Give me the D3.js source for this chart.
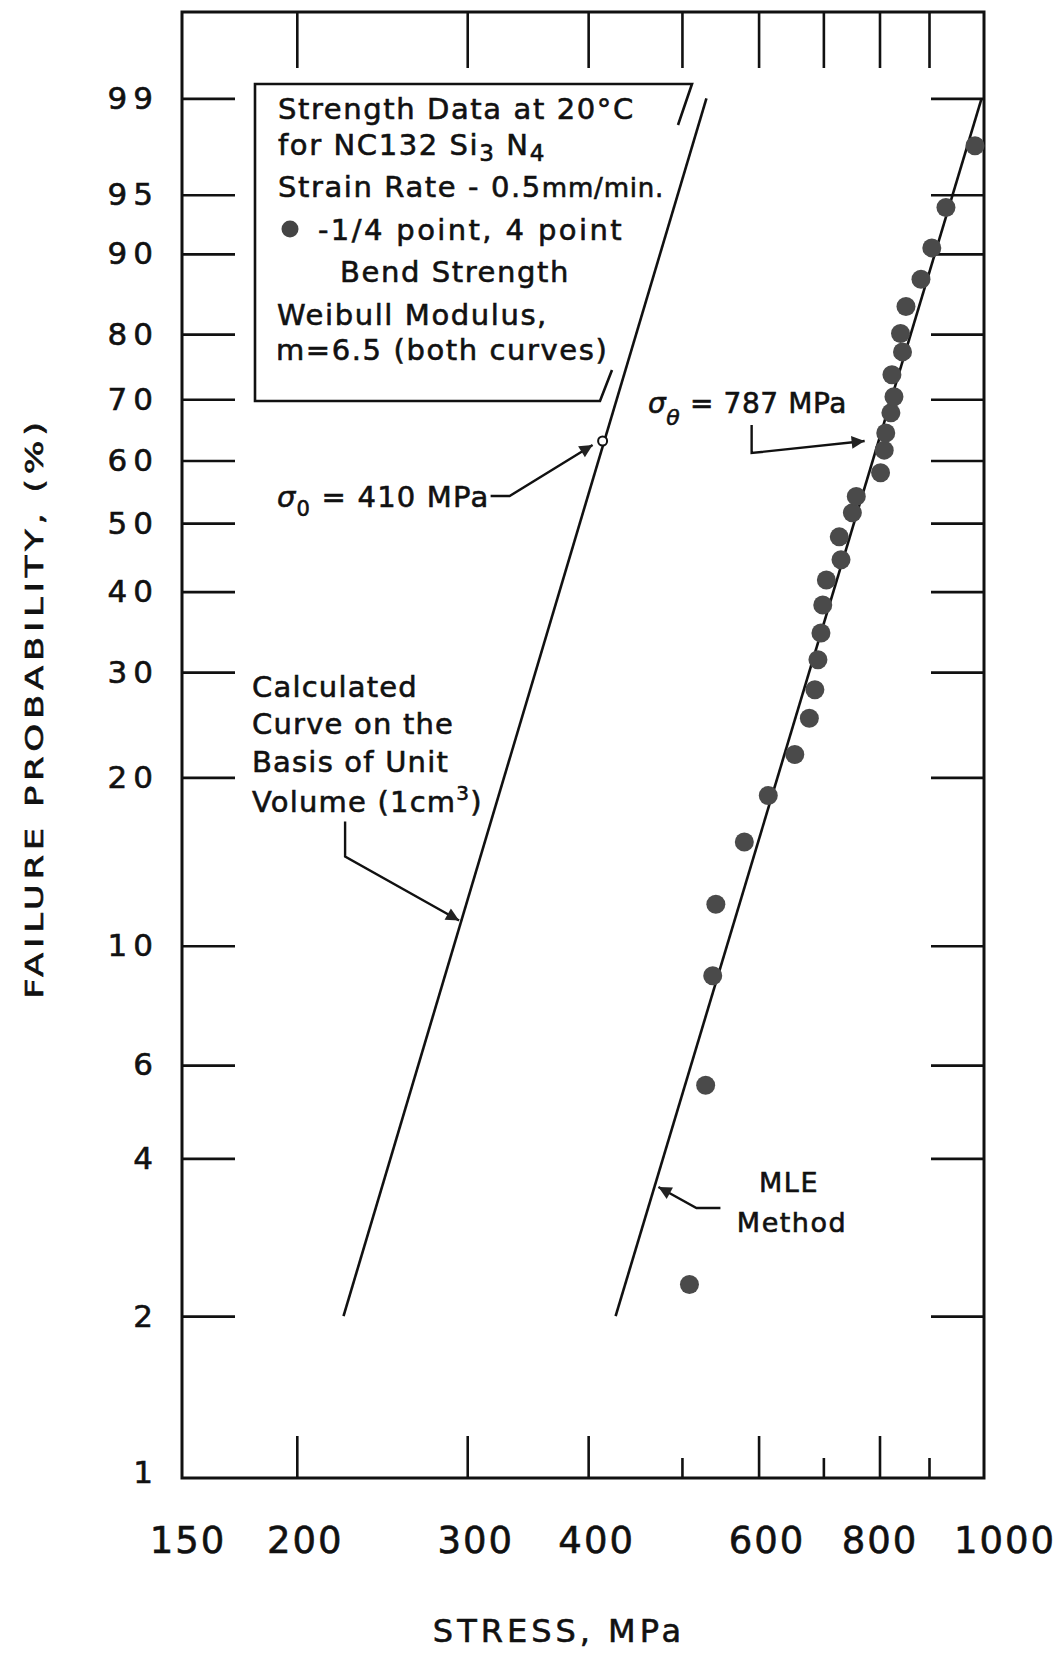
<!DOCTYPE html>
<html>
<head>
<meta charset="utf-8">
<script src="https://cdn.jsdelivr.net/npm/d3@7"></script>
<style>
  body { margin: 0; background: #fff; }
  text { font-family: 'DejaVu Sans', sans-serif; fill: #111; stroke: #111; stroke-width: 0.6px; }
</style>
</head>
<body>
<div id="chart"></div>
<script>
// Weibull probability plot: failure probability vs stress (log)

const stressDomain = [152.2, 1025.8];
const probDomain = [0.977, 99.885];

const stressLongTicks = [200, 300, 400, 600, 800];
const stressShortTicks = [500, 700, 900];
const stressTopTicks = [200, 300, 400, 500, 600, 700, 800, 900];
const stressLabels = [200, 300, 400, 600, 800];
const stressEdgeLabels = ['150', '1000'];

const probTicks = [2, 4, 6, 10, 20, 30, 40, 50, 60, 70, 80, 90, 95, 99];
const probLabels = [1, 2, 4, 6, 10, 20, 30, 40, 50, 60, 70, 80, 90, 95, 99];

// 1/4 point, 4 point bend strength data
const bendStress = [509, 529, 538, 542, 580, 614, 654, 677, 686, 691, 696, 699, 705, 730, 727,
  750, 757, 802, 809, 812, 822, 828, 824, 845, 841, 852, 883, 906, 937, 1004];
const bendProb = [2.3, 5.5, 8.8, 11.9, 15.4, 18.6, 21.9, 25.2, 28.1, 31.4, 34.6, 38.2, 41.6, 44.5, 47.9,
  51.6, 54.2, 58.0, 61.7, 64.5, 67.8, 70.4, 73.9, 77.4, 80.1, 83.8, 87.2, 90.6, 94.1, 97.6];

// fitted lines (stress, probability %)
const unitVolumeStress = [223.5, 530];
const unitVolumeProb = [2, 99];
const mleStress = [427, 1020];
const mleProb = [2, 99];

const sigma0Point = [414, 63.2];

const width = 1057;
const height = 1653;
const frame = { left: 182, right: 984, top: 12, bottom: 1478 };

const weib = (p) => Math.log(-Math.log(1 - p / 100));

const svg = d3.select('#chart').append('svg').attr('width', width).attr('height', height);

const x = d3.scaleLog().domain(stressDomain).range([frame.left, frame.right]);
const y = d3.scaleLinear().domain(probDomain.map(weib)).range([frame.bottom, frame.top]);
const px = (d) => x(d[0]);
const py = (d) => y(weib(d[1]));

// arrow head
svg
  .append('defs')
  .append('marker')
  .attr('id', 'head')
  .attr('markerUnits', 'userSpaceOnUse')
  .attr('viewBox', '0 0 10 10')
  .attr('refX', 10)
  .attr('refY', 5)
  .attr('markerWidth', 27)
  .attr('markerHeight', 13)
  .attr('orient', 'auto')
  .append('path')
  .attr('d', 'M0,0 L10,5 L0,10 Z')
  .attr('fill', '#222');

const styleTicks = (g, w) => {
  g.select('.domain').remove();
  g.selectAll('.tick line').attr('stroke', '#111').attr('stroke-width', w);
};

// tick marks
svg
  .append('g')
  .attr('transform', `translate(${frame.left},0)`)
  .call(d3.axisLeft(y).tickValues(probTicks.map(weib)).tickSize(-53).tickFormat(''))
  .call((g) => styleTicks(g, 2.6));

svg
  .append('g')
  .attr('transform', `translate(${frame.right},0)`)
  .call(d3.axisRight(y).tickValues(probTicks.map(weib)).tickSize(-53).tickFormat(''))
  .call((g) => styleTicks(g, 2.6));

svg
  .append('g')
  .attr('transform', `translate(0,${frame.top})`)
  .call(d3.axisTop(x).tickValues(stressTopTicks).tickSize(-56).tickFormat(''))
  .call((g) => styleTicks(g, 2.6));

svg
  .append('g')
  .attr('transform', `translate(0,${frame.bottom})`)
  .call(d3.axisBottom(x).tickValues(stressLongTicks).tickSize(-42).tickFormat(''))
  .call((g) => styleTicks(g, 2.6));

svg
  .append('g')
  .attr('transform', `translate(0,${frame.bottom})`)
  .call(d3.axisBottom(x).tickValues(stressShortTicks).tickSize(-20).tickFormat(''))
  .call((g) => styleTicks(g, 2.6));

// tick labels
const bottomLabels = svg
  .append('g')
  .attr('transform', `translate(0,${frame.bottom})`)
  .call(d3.axisBottom(x).tickValues(stressLabels).tickSize(0).tickPadding(49).tickFormat(d3.format('d')));
bottomLabels.select('.domain').remove();
bottomLabels.attr('font-size', null).attr('font-family', null);
bottomLabels
  .selectAll('text')
  .attr('dx', (d) => (d === 800 ? 0 : 8))
  .style('font-size', '37px')
  .style('letter-spacing', '2px');

// 150 and 1000 sit at the frame corners
bottomLabels
  .selectAll('.edge')
  .data(stressEdgeLabels)
  .join('text')
  .attr('class', 'edge')
  .attr('x', (d, i) => x.range()[i] + (i ? 21 : 6))
  .attr('y', 49)
  .attr('dy', '0.71em')
  .attr('text-anchor', 'middle')
  .style('font-size', '37px')
  .style('letter-spacing', '2px')
  .text((d) => d);

const leftLabels = svg
  .append('g')
  .attr('transform', `translate(${frame.left},0)`)
  .call(
    d3
      .axisLeft(y)
      .tickValues(probLabels.map(weib))
      .tickSize(0)
      .tickPadding(23)
      .tickFormat((d, i) => probLabels[i]),
  );
leftLabels.select('.domain').remove();
leftLabels.attr('font-size', null).attr('font-family', null);
leftLabels.selectAll('text').style('font-size', '31px').style('letter-spacing', '6px');

// frame
svg
  .append('rect')
  .attr('x', frame.left)
  .attr('y', frame.top)
  .attr('width', frame.right - frame.left)
  .attr('height', frame.bottom - frame.top)
  .attr('fill', 'none')
  .attr('stroke', '#111')
  .attr('stroke-width', 3);

// axis titles
svg
  .append('text')
  .attr('x', 559)
  .attr('y', 1642)
  .attr('text-anchor', 'middle')
  .style('font-size', '32px')
  .style('letter-spacing', '4px')
  .text('STRESS, MPa');

svg
  .append('text')
  .attr('transform', 'translate(43,708) rotate(-90) scale(1.42,1)')
  .attr('text-anchor', 'middle')
  .style('font-size', '25px')
  .style('letter-spacing', '3.3px')
  .text('FAILURE PROBABILITY, (%)');

// lines
const line = d3.line().x(px).y(py);

const unitVolumeData = d3.zip(unitVolumeStress, unitVolumeProb);
const mleData = d3.zip(mleStress, mleProb);

svg
  .append('path')
  .datum(unitVolumeData)
  .attr('d', line)
  .attr('fill', 'none')
  .attr('stroke', '#111')
  .attr('stroke-width', 2.6);

svg
  .append('path')
  .datum(mleData)
  .attr('d', line)
  .attr('fill', 'none')
  .attr('stroke', '#111')
  .attr('stroke-width', 2.6);

// data points
svg
  .append('g')
  .selectAll('circle')
  .data(d3.zip(bendStress, bendProb))
  .join('circle')
  .attr('cx', px)
  .attr('cy', py)
  .attr('r', 9.5)
  .attr('fill', '#4a4a4a');

// point on a fitted line at a given probability (log stress vs weibull)
const onLine = (data, p) => {
  const t = (weib(p) - weib(data[0][1])) / (weib(data[1][1]) - weib(data[0][1]));
  const s = Math.exp(Math.log(data[0][0]) + t * (Math.log(data[1][0]) - Math.log(data[0][0])));
  return [x(s), y(weib(p))];
};

const arrow = (pts) => {
  svg
    .append('path')
    .attr('d', d3.line()(pts))
    .attr('fill', 'none')
    .attr('stroke', '#111')
    .attr('stroke-width', 2.4)
    .attr('marker-end', 'url(#head)');
};

// legend box
svg
  .append('path')
  .attr('d', 'M678,125 L692,84 L255,84 L255,401 L600,401 L612,370')
  .attr('fill', 'none')
  .attr('stroke', '#111')
  .attr('stroke-width', 2.6);

const legend = svg.append('g').style('font-size', '29px').style('letter-spacing', '1.6px');

legend.append('text').attr('x', 278).attr('y', 119).text('Strength Data at 20°C');

const l2 = legend.append('text').attr('x', 278).attr('y', 155);
l2.append('tspan').text('for NC132  Si');
l2.append('tspan').attr('dy', 6).style('font-size', '23px').text('3');
l2.append('tspan').attr('dy', -6).text('  N');
l2.append('tspan').attr('dy', 6).style('font-size', '23px').text('4');

const l3 = legend.append('text').attr('x', 278).attr('y', 197);
l3.append('tspan').text('Strain Rate - 0.5');
l3.append('tspan').style('font-size', '26px').style('letter-spacing', '0.8px').text('mm/min.');

legend.append('circle').attr('cx', 290).attr('cy', 229).attr('r', 8.5).attr('fill', '#444');
legend.append('text').attr('x', 318).attr('y', 240).style('letter-spacing', '2.4px').text('-1/4 point, 4 point');
legend.append('text').attr('x', 340).attr('y', 282).text('Bend Strength');
legend.append('text').attr('x', 277).attr('y', 325).text('Weibull Modulus,');
legend.append('text').attr('x', 276).attr('y', 360).text('m=6.5 (both curves)');

// sigma_0 annotation
const s0 = [px(sigma0Point), py(sigma0Point)];
svg
  .append('circle')
  .attr('cx', s0[0])
  .attr('cy', s0[1])
  .attr('r', 4.5)
  .attr('fill', '#fff')
  .attr('stroke', '#111')
  .attr('stroke-width', 2);

const t0 = svg.append('text').attr('x', 277).attr('y', 507).style('font-size', '29px').style('letter-spacing', '1.2px');
t0.append('tspan').style('font-style', 'italic').text('σ');
t0.append('tspan').attr('dy', 9).style('font-size', '21px').text('0');
t0.append('tspan').attr('dy', -9).text(' = 410 MPa');

arrow([
  [s0[0] - 112, s0[1] + 55],
  [s0[0] - 93, s0[1] + 55],
  [s0[0] - 10, s0[1] + 4],
]);

// sigma_theta annotation
const sT = onLine(mleData, 63.2);
const tT = svg.append('text').attr('x', 648).attr('y', 413).style('font-size', '28px').style('letter-spacing', '0.6px');
tT.append('tspan').style('font-style', 'italic').text('σ');
tT.append('tspan').attr('dy', 12).style('font-size', '22px').style('font-style', 'italic').text('θ');
tT.append('tspan').attr('dy', -12).text(' = 787 MPa');

arrow([
  [sT[0] - 127, sT[1] - 16],
  [sT[0] - 127, sT[1] + 12],
  [sT[0] - 14, sT[1]],
]);

// unit volume annotation
const calc = svg.append('g').style('font-size', '29px').style('letter-spacing', '1.2px');
calc.append('text').attr('x', 252).attr('y', 697).text('Calculated');
calc.append('text').attr('x', 252).attr('y', 734).text('Curve on the');
calc.append('text').attr('x', 252).attr('y', 772).text('Basis of Unit');
const vol = calc.append('text').attr('x', 252).attr('y', 812);
vol.append('tspan').text('Volume (1cm');
vol.append('tspan').attr('dy', -12).style('font-size', '20px').text('3');
vol.append('tspan').attr('dy', 12).text(')');

const cTip = onLine(unitVolumeData, 11.07);
arrow([
  [cTip[0] - 116, cTip[1] - 100],
  [cTip[0] - 116, cTip[1] - 65],
  [cTip[0] - 2, cTip[1] - 1],
]);

// MLE annotation
const mle = svg
  .append('g')
  .style('font-size', '27px')
  .style('stroke-width', '1.3px')
  .style('letter-spacing', '1.5px');
mle.append('text').attr('x', 789).attr('y', 1192).attr('text-anchor', 'middle').text('MLE');
mle.append('text').attr('x', 792).attr('y', 1232).attr('text-anchor', 'middle').text('Method');

const mTip = onLine(mleData, 3.53);
arrow([
  [mTip[0] + 66, mTip[1] + 21],
  [mTip[0] + 42, mTip[1] + 21],
  [mTip[0] + 4, mTip[1]],
]);
</script>
</body>
</html>
